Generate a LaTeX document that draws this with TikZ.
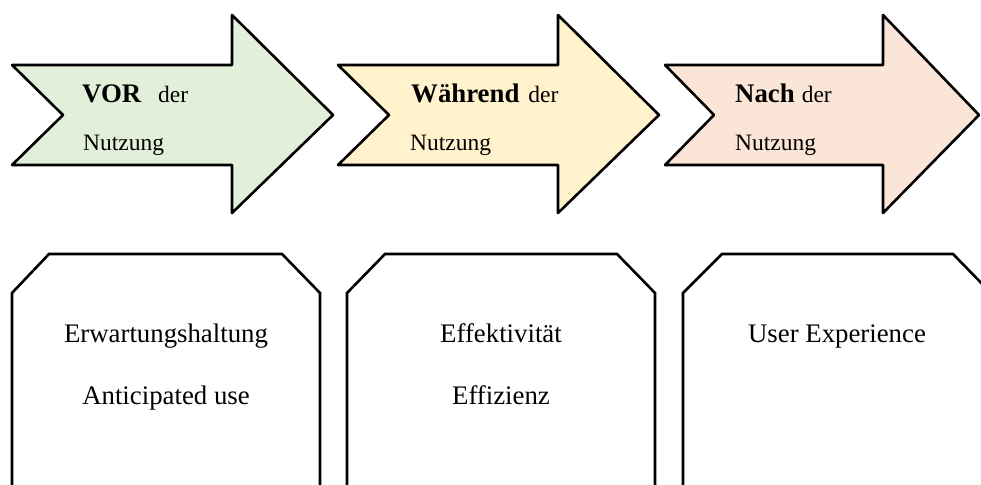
\documentclass[tikz,border=0pt]{standalone}
\usepackage{fontspec}
\setmainfont{Liberation Serif}
\usepackage{tkz-euclide}
\definecolor{VorClr}{HTML}{E2F0D9}
\definecolor{WaehrendClr}{HTML}{FFF2CC}
\definecolor{NachClr}{HTML}{FBE5D6}
\newcommand{\headfont}{\fontsize{26.8}{31}\selectfont\bfseries}
\newcommand{\subfont}{\fontsize{23.5}{28}\selectfont}
\newcommand{\boxfont}{\fontsize{26.8}{31}\selectfont}

\begin{document}
\begin{tikzpicture}[x=1pt,y=1pt]
\useasboundingbox (0,0) rectangle (981,484);
\clip (0,0) rectangle (981,484);
\tkzSetUpLine[line width=2.6pt,color=black]

% arrows
\tkzDefPoints{12/419/A1,232/419/A2,232/469/A3,333/369/A4,232/271/A5,232/319/A6,12/319/A7,63/369/A8}
\tkzDefPoints{338/419/B1,558/419/B2,558/469/B3,659/369/B4,558/271/B5,558/319/B6,338/319/B7,389/369/B8}
\tkzDefPoints{665/419/C1,883/419/C2,883/469/C3,979/369/C4,883/271/C5,883/319/C6,665/319/C7,714/369/C8}

\tkzDrawPolygon[line width=2.6pt,fill=VorClr](A1,A2,A3,A4,A5,A6,A7,A8)
\tkzDrawPolygon[line width=2.6pt,fill=WaehrendClr](B1,B2,B3,B4,B5,B6,B7,B8)
\tkzDrawPolygon[line width=2.6pt,fill=NachClr](C1,C2,C3,C4,C5,C6,C7,C8)

% boxes (open at the bottom)
\tkzDefPoints{12/-5/P1,12/191/P2,49/230/P3,282/230/P4,320/191/P5,320/-5/P6}
\tkzDefPoints{347/-5/Q1,347/191/Q2,385/230/Q3,617/230/Q4,655/191/Q5,655/-5/Q6}
\tkzDefPoints{683/-5/R1,683/191/R2,722/230/R3,953/230/R4,991/191/R5,991/-5/R6}

\tkzDrawPolySeg[line width=2.6pt](P1,P2,P3,P4,P5,P6)
\tkzDrawPolySeg[line width=2.6pt](Q1,Q2,Q3,Q4,Q5,Q6)
\tkzDrawPolySeg[line width=2.6pt](R1,R2,R3,R4,R5,R6)

% arrow labels
\node[anchor=base west,inner sep=0pt] (vorHead) at (82,381) {{\headfont VOR}\hspace{17pt}{\subfont der}};
\node[anchor=base west,inner sep=0pt] (vorSub) at (83,333) {\subfont Nutzung};
\node[anchor=base west,inner sep=0pt] (waehrendHead) at (411,381) {{\headfont Während}\hspace{9pt}{\subfont der}};
\node[anchor=base west,inner sep=0pt] (waehrendSub) at (410,333) {\subfont Nutzung};
\node[anchor=base west,inner sep=0pt] (nachHead) at (735,381) {{\headfont Nach}\hspace{7pt}{\subfont der}};
\node[anchor=base west,inner sep=0pt] (nachSub) at (735,333) {\subfont Nutzung};

% box labels
\node[anchor=base,inner sep=0pt] (vorA) at (166,141) {\boxfont Erwartungshaltung};
\node[anchor=base,inner sep=0pt] (vorB) at (166,79) {\boxfont Anticipated use};
\node[anchor=base,inner sep=0pt] (waehrendA) at (501,141) {\boxfont Effektivität};
\node[anchor=base,inner sep=0pt] (waehrendB) at (501,79) {\boxfont Effizienz};
\node[anchor=base,inner sep=0pt] (nachA) at (837,141) {\boxfont User Experience};

\end{tikzpicture}
\end{document}
